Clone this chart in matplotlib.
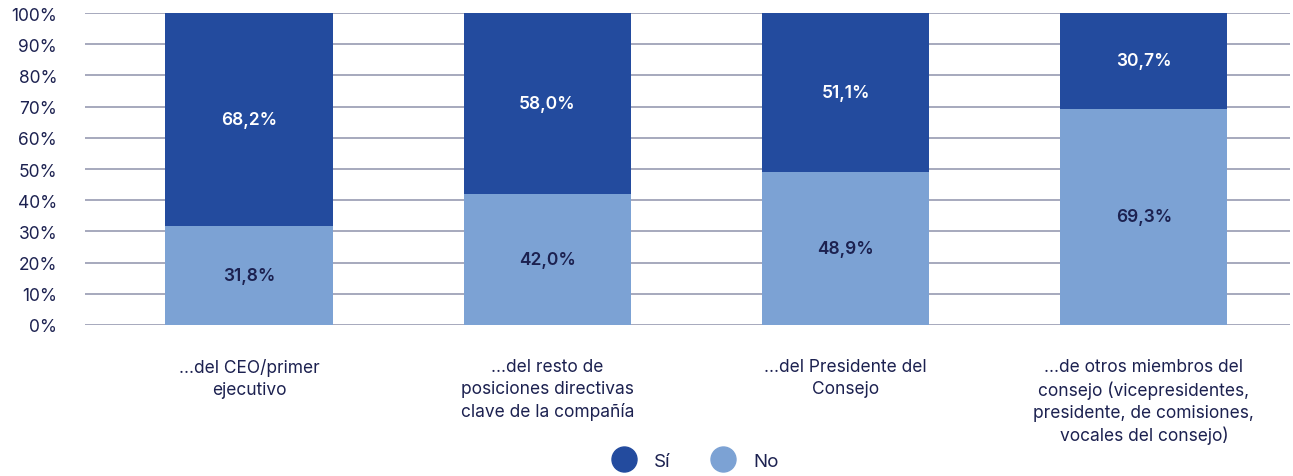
import numpy as np
import matplotlib.pyplot as plt
from matplotlib.lines import Line2D
from matplotlib.ticker import FuncFormatter

plt.rcParams['font.family'] = ['Inter', 'DejaVu Sans']

categories = [
    "...del CEO/primer\nejecutivo",
    "...del resto de\nposiciones directivas\nclave de la compañía",
    "...del Presidente del\nConsejo",
    "...de otros miembros del\nconsejo (vicepresidentes,\npresidente, de comisiones,\nvocales del consejo)",
]
no_vals = [31.8, 42.0, 48.9, 69.3]
si_vals = [68.2, 58.0, 51.1, 30.7]

dark = "#234b9e"
light = "#7ca2d4"
text_col = "#1c2150"
grid_col = "#9fa3b8"

fig = plt.figure(figsize=(12.93, 4.77), dpi=100)
ax = fig.add_axes([0.0657, 0.3166, 0.932, 0.654])

x = np.arange(len(categories))
width = 0.56
ax.bar(x, no_vals, width, color=light, zorder=2)
ax.bar(x, si_vals, width, bottom=no_vals, color=dark, zorder=2)

# value labels centred in each stacked segment
for xi, n, s in zip(x, no_vals, si_vals):
    ax.text(xi, n / 2, f"{n:.1f}%".replace(".", ","), ha="center", va="center",
            fontsize=12.5, fontweight="semibold", color=text_col, zorder=3)
    ax.text(xi, n + s / 2, f"{s:.1f}%".replace(".", ","), ha="center", va="center",
            fontsize=12.5, fontweight="semibold", color="white", zorder=3)

ax.set_ylim(0, 100)
ax.set_xlim(-0.55, 3.49)
ax.set_yticks(np.arange(0, 101, 10))
ax.yaxis.set_major_formatter(FuncFormatter(lambda v, p: f"{v:.0f}%"))
ax.grid(axis="y", color=grid_col, linewidth=1.3, zorder=0)
ax.set_axisbelow(True)
for sp in ax.spines.values():
    sp.set_visible(False)
ax.tick_params(axis="y", length=0, pad=20, labelsize=12.5, labelcolor=text_col)
ax.tick_params(axis="x", length=0, pad=24, labelsize=12.5, labelcolor=text_col)
ax.set_xticks(x)
ax.set_xticklabels(categories, linespacing=1.36, va="top")

handles = [
    Line2D([], [], marker="o", linestyle="none", markersize=18, color=dark, label="Sí"),
    Line2D([], [], marker="o", linestyle="none", markersize=18, color=light, label="No"),
]
fig.legend(handles=handles, loc="lower center", bbox_to_anchor=(0.535, -0.022), ncol=2,
           frameon=False, fontsize=13.5, labelcolor=text_col, handletextpad=0.6,
           columnspacing=1.8)

fig.savefig("out.png", dpi=100)
